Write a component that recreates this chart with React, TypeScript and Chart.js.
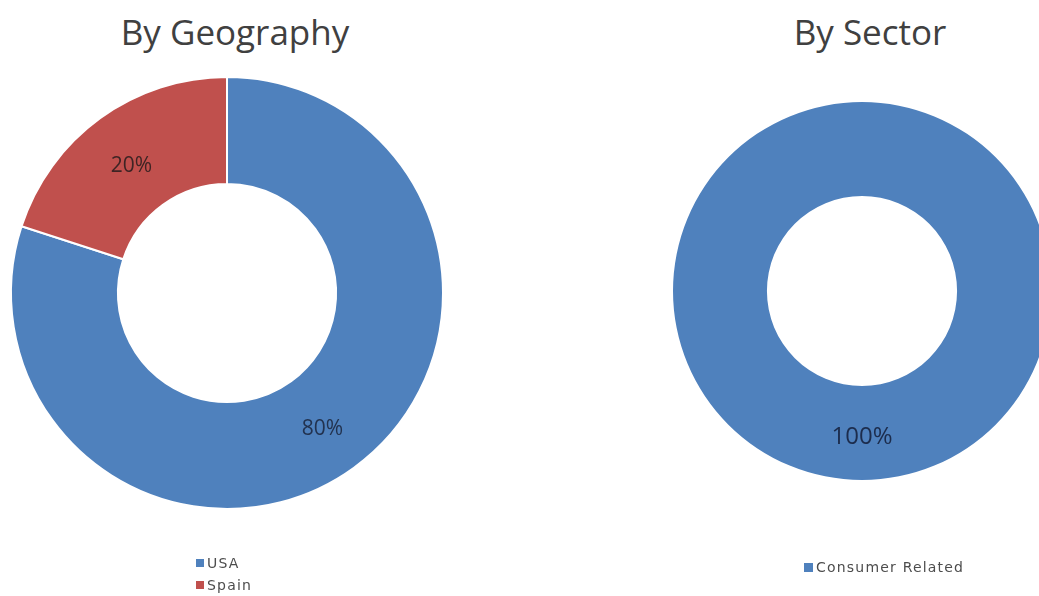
import React, { useEffect, useRef } from "react";
import { Chart, registerables } from "chart.js";

Chart.register(...registerables);

// ---- data ----
const geoTitle = "By Geography";
const geoLabels = ["USA", "Spain"];
const geoValues = [80, 20];
const geoColors = ["#4f81bd", "#c0504d"];

const sectorTitle = "By Sector";
const sectorLabels = ["Consumer Related"];
const sectorValues = [100];
const sectorColors = ["#4f81bd"];

const sliceLabelPlugin = {
  id: "sliceLabels",
  afterDatasetsDraw(chart: any, _args: any, opts: any) {
    const { ctx } = chart;
    const meta = chart.getDatasetMeta(0);
    const values = chart.data.datasets[0].data as number[];
    ctx.save();
    ctx.textAlign = "center";
    ctx.textBaseline = "middle";
    ctx.font = `${opts.size || 20}px "Open Sans", sans-serif`;
    meta.data.forEach((arc: any, i: number) => {
      const p = arc.getCenterPoint();
      const colors = opts.colors || ["#333"];
      ctx.fillStyle = colors[i % colors.length];
      ctx.fillText(`${values[i]}%`, p.x, p.y + (opts.dy || 0));
    });
    ctx.restore();
  },
};

type DonutProps = {
  labels: string[];
  values: number[];
  colors: string[];
  radius: number;
  cutout: string;
  borderWidth: number;
  labelSize: number;
  labelDy: number;
  labelColors: string[];
  box: React.CSSProperties;
};

function Donut(p: DonutProps) {
  const ref = useRef<HTMLCanvasElement | null>(null);
  useEffect(() => {
    if (!ref.current) return;
    const chart = new Chart(ref.current, {
      type: "doughnut",
      data: {
        labels: p.labels,
        datasets: [
          {
            data: p.values,
            backgroundColor: p.colors,
            borderColor: "#ffffff",
            borderWidth: p.borderWidth,
          },
        ],
      },
      options: {
        animation: false,
        responsive: true,
        maintainAspectRatio: false,
        radius: p.radius,
        cutout: p.cutout,
        layout: { padding: 0 },
        plugins: {
          legend: { display: false },
          tooltip: { enabled: false },
          title: { display: false },
          sliceLabels: { size: p.labelSize, colors: p.labelColors, dy: p.labelDy },
        } as any,
      } as any,
      plugins: [sliceLabelPlugin],
    });
    return () => chart.destroy();
  }, []);
  return (
    <div style={{ position: "absolute", ...p.box }}>
      <canvas ref={ref} />
    </div>
  );
}

function Legend(props: {
  labels: string[];
  colors: string[];
  marker: number;
  box: React.CSSProperties;
}) {
  return (
    <div
      style={{
        position: "absolute",
        ...props.box,
        fontFamily: '"DejaVu Sans", sans-serif',
        fontSize: 14,
        letterSpacing: "1.2px",
        color: "#4d4d4d",
      }}
    >
      {props.labels.map((l, i) => (
        <div
          key={l}
          style={{ display: "flex", alignItems: "center", height: 22, whiteSpace: "nowrap" }}
        >
          <span
            style={{
              display: "inline-block",
              width: props.marker,
              height: props.marker,
              background: props.colors[i],
              marginRight: 3,
            }}
          />
          <span>{l}</span>
        </div>
      ))}
    </div>
  );
}

const titleStyle: React.CSSProperties = {
  position: "absolute",
  top: 15,
  textAlign: "center",
  fontFamily: '"Open Sans", sans-serif',
  fontSize: 35,
  lineHeight: "34px",
  color: "#404040",
  whiteSpace: "nowrap",
};

export default function App() {
  return (
    <div
      style={{
        position: "fixed",
        left: 0,
        top: 0,
        width: 1039,
        height: 596,
        overflow: "hidden",
        background: "#ffffff",
      }}
    >
      <div style={{ ...titleStyle, left: 0, width: 470 }}>{geoTitle}</div>
      <div style={{ ...titleStyle, left: 770, width: 200 }}>{sectorTitle}</div>

      <Donut
        labels={geoLabels}
        values={geoValues}
        colors={geoColors}
        radius={216}
        cutout="50.5%"
        borderWidth={2}
        labelSize={21}
        labelDy={5}
        labelColors={["#22324f", "#3e2424"]}
        box={{ left: 0, top: 0, width: 454, height: 586 }}
      />
      <Donut
        labels={sectorLabels}
        values={sectorValues}
        colors={sectorColors}
        radius={189}
        cutout="50.3%"
        borderWidth={0}
        labelSize={24}
        labelDy={4}
        labelColors={["#1c2c4c"]}
        box={{ left: 662, top: 0, width: 400, height: 582 }}
      />

      <Legend labels={geoLabels} colors={geoColors} marker={8} box={{ left: 196, top: 552 }} />
      <Legend labels={sectorLabels} colors={sectorColors} marker={9} box={{ left: 804, top: 556 }} />
    </div>
  );
}
